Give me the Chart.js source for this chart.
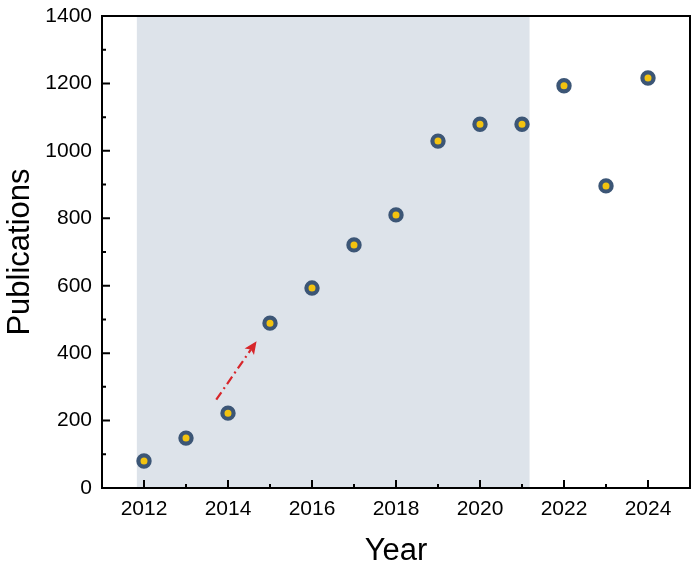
<!DOCTYPE html>
<html>
<head>
<meta charset="utf-8">
<script src="https://cdn.jsdelivr.net/npm/chart.js@4/dist/chart.umd.min.js"></script>
<style>
html,body{margin:0;padding:0;background:#fff;}
#wrap{width:692px;height:570px;position:relative;}
</style>
</head>
<body>
<div id="wrap"><canvas id="c" width="692" height="570"></canvas></div>
<script>
const years = [2012, 2013, 2014, 2015, 2016, 2017, 2018, 2019, 2020, 2021, 2022, 2023, 2024];
const publications = [80, 148, 222, 489, 593, 721, 810, 1029, 1079, 1079, 1193, 896, 1216];
const xTickValues = [2012, 2014, 2016, 2018, 2020, 2022, 2024];
const yTickValues = [0, 200, 400, 600, 800, 1000, 1200, 1400];
const shadedYears = [2011.83, 2021.18];
const arrowFrom = [2013.72, 262];
const arrowTo = [2014.68, 435];

const FONT = "'Liberation Sans', Arial, sans-serif";

const decorPlugin = {
  id: 'decor',
  beforeDatasetsDraw(chart) {
    const {ctx, chartArea: a, scales: {x, y}} = chart;
    ctx.save();
    const x0 = x.getPixelForValue(shadedYears[0]);
    const x1 = x.getPixelForValue(shadedYears[1]);
    ctx.fillStyle = '#dde3ea';
    ctx.fillRect(x0, a.top, x1 - x0, a.bottom - a.top);

    // frame
    ctx.strokeStyle = '#000';
    ctx.lineWidth = 2;
    ctx.strokeRect(a.left, a.top, a.right - a.left, a.bottom - a.top);

    // inward ticks
    ctx.lineWidth = 2;
    ctx.beginPath();
    const xt = x.ticks.map(t => t.value);
    xt.forEach((v, i) => {
      const px = x.getPixelForValue(v);
      ctx.moveTo(px, a.bottom); ctx.lineTo(px, a.bottom - 8);
      if (i < xt.length - 1) {
        const pm = x.getPixelForValue((v + xt[i + 1]) / 2);
        ctx.moveTo(pm, a.bottom); ctx.lineTo(pm, a.bottom - 4);
      }
    });
    const step = xt[1] - xt[0];
    [xt[0] - step / 2, xt[xt.length - 1] + step / 2].forEach(v => {
      const pm = x.getPixelForValue(v);
      if (pm > a.left + 1 && pm < a.right - 1) { ctx.moveTo(pm, a.bottom); ctx.lineTo(pm, a.bottom - 4); }
    });
    const yt = y.ticks.map(t => t.value);
    yt.forEach((v, i) => {
      const py = y.getPixelForValue(v);
      ctx.moveTo(a.left, py); ctx.lineTo(a.left + 8, py);
      if (i < yt.length - 1) {
        const pm = y.getPixelForValue((v + yt[i + 1]) / 2);
        ctx.moveTo(a.left, pm); ctx.lineTo(a.left + 4, pm);
      }
    });
    ctx.stroke();

    // arrow
    const sx = x.getPixelForValue(arrowFrom[0]), sy = y.getPixelForValue(arrowFrom[1]);
    const ex = x.getPixelForValue(arrowTo[0]), ey = y.getPixelForValue(arrowTo[1]);
    const ang = Math.atan2(ey - sy, ex - sx);
    const headLen = 14;
    const bx = ex - headLen * 0.7 * Math.cos(ang), by = ey - headLen * 0.7 * Math.sin(ang);
    ctx.strokeStyle = '#d7262b';
    ctx.fillStyle = '#d7262b';
    ctx.lineWidth = 2.2;
    ctx.setLineDash([9, 4, 2, 4]);
    ctx.beginPath();
    ctx.moveTo(sx, sy);
    ctx.lineTo(bx, by);
    ctx.stroke();
    ctx.setLineDash([]);
    ctx.beginPath();
    ctx.moveTo(ex, ey);
    ctx.lineTo(ex - headLen * Math.cos(ang - 0.42), ey - headLen * Math.sin(ang - 0.42));
    ctx.lineTo(bx, by);
    ctx.lineTo(ex - headLen * Math.cos(ang + 0.42), ey - headLen * Math.sin(ang + 0.42));
    ctx.closePath();
    ctx.fill();
    ctx.restore();
  }
};

new Chart(document.getElementById('c'), {
  type: 'scatter',
  data: {
    datasets: [{
      data: years.map((yr, i) => ({x: yr, y: publications[i]})),
      pointRadius: 5.6,
      pointHoverRadius: 5.6,
      pointBorderWidth: 4.2,
      pointBackgroundColor: '#f3c30f',
      pointBorderColor: '#3c5676'
    }]
  },
  options: {
    responsive: false,
    animation: false,
    events: [],
    layout: {autoPadding: false, padding: {top: 16, right: 2, left: 0, bottom: 0}},
    plugins: {legend: {display: false}, tooltip: {enabled: false}},
    scales: {
      x: {
        type: 'linear',
        min: 2011,
        max: 2025,
        afterBuildTicks: s => { s.ticks = xTickValues.map(v => ({value: v})); },
        afterFit: s => { s.height = 82; s.paddingLeft = 0; s.paddingRight = 0; },
        grid: {display: false, drawTicks: false},
        border: {display: false},
        ticks: {color: '#000', padding: 9, font: {family: FONT, size: 21}, callback: v => String(v)},
        title: {display: true, text: 'Year', color: '#000', font: {family: FONT, size: 31}, padding: {top: 4, bottom: 0}}
      },
      y: {
        type: 'linear',
        min: 0,
        max: 1400,
        afterBuildTicks: s => { s.ticks = yTickValues.map(v => ({value: v})); },
        afterFit: s => { s.width = 102; s.paddingTop = 0; s.paddingBottom = 0; },
        grid: {display: false, drawTicks: false},
        border: {display: false},
        ticks: {color: '#000', padding: 10, font: {family: FONT, size: 21}, callback: v => String(v)},
        title: {display: true, text: 'Publications', color: '#000', font: {family: FONT, size: 31}, padding: {top: 2, bottom: 0}}
      }
    }
  },
  plugins: [decorPlugin]
});
</script>
</body>
</html>
